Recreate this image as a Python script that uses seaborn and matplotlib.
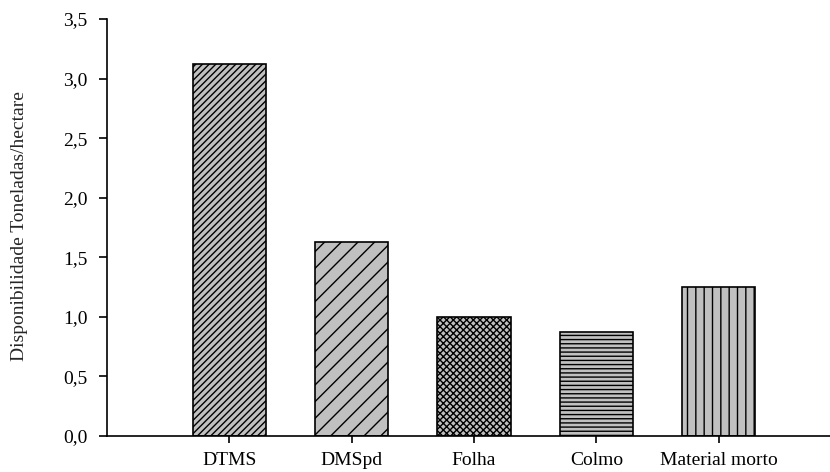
import matplotlib
matplotlib.use("Agg")
import matplotlib.pyplot as plt
import seaborn as sns
from matplotlib.ticker import FuncFormatter

categories = ["DTMS", "DMSpd", "Folha", "Colmo", "Material morto"]
values = [3.12, 1.63, 1.0, 0.87, 1.25]
hatches = ["/////", "//", "xxxxx", "----", "||"]
yticks = [0.0, 0.5, 1.0, 1.5, 2.0, 2.5, 3.0, 3.5]
ylabel = "Disponibilidade Toneladas/hectare"

sns.set_style("ticks")
plt.rcParams["font.family"] = ["Liberation Serif", "DejaVu Serif"]
plt.rcParams["hatch.linewidth"] = 1.0

W, H = 830, 472
fig = plt.figure(figsize=(W / 100, H / 100), dpi=100)
ax = fig.add_axes([107 / W, (H - 436) / H, (841 - 107) / W, (436 - 19) / H])

sns.barplot(x=categories, y=values, width=0.6, color="#c0c0c0", saturation=1,
            edgecolor="black", linewidth=1.2, ax=ax)
for p, h in zip(ax.patches, hatches):
    p.set_hatch(h)

ax.set_xlim(-1, 5)
ax.set_ylim(0, 3.5)
ax.set_yticks(yticks)
ax.yaxis.set_major_formatter(FuncFormatter(lambda v, pos: f"{v:.1f}".replace(".", ",")))

for s in ["top", "right"]:
    ax.spines[s].set_visible(False)
for s in ["left", "bottom"]:
    ax.spines[s].set_linewidth(1.2)
    ax.spines[s].set_color("black")

ax.tick_params(axis="y", direction="out", length=6, width=1.2, pad=8, labelsize=14, colors="black")
ax.tick_params(axis="x", direction="out", length=5, width=1.2, pad=6.5, labelsize=14, colors="black")

ax.set_xlabel("")
ax.set_ylabel(ylabel, fontsize=14)
ax.yaxis.label.set_va("center")
ax.yaxis.set_label_coords((20 - 107) / (841 - 107), (436 - 226) / (436 - 19))

fig.savefig("out.png", dpi=100)
